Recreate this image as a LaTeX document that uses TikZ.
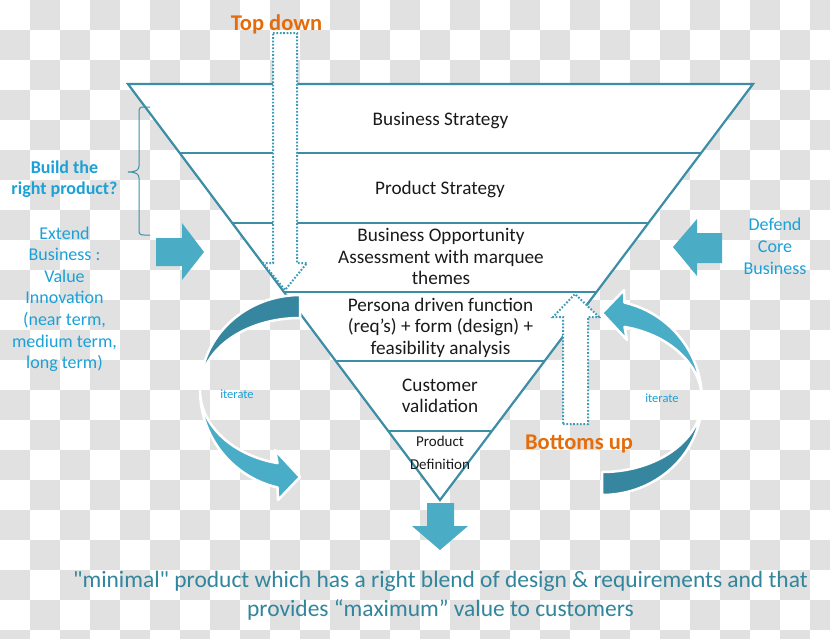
\documentclass[tikz,border=0pt]{standalone}
\usepackage{fontspec}
\setmainfont{Carlito}
\usetikzlibrary{calc}
\definecolor{checkgray}{HTML}{E1E1E1}
\definecolor{funnelline}{HTML}{3B8EA5}
\definecolor{dotline}{HTML}{3E9BB6}
\definecolor{blockblue}{HTML}{4BACC6}
\definecolor{brightblue}{HTML}{1BA1D8}
\definecolor{orangetxt}{HTML}{E46C0A}
\definecolor{tealtxt}{HTML}{31859C}
\definecolor{darkband}{HTML}{3686A0}
\definecolor{lightband}{HTML}{4AADC8}
\definecolor{fgtext}{HTML}{1A1A1A}
\tikzset{
  funnelstroke/.style={draw=funnelline, line width=2.2pt},
  ftext/.style={inner sep=0pt, align=center, anchor=base, text=fgtext, font=\fontsize{19.2}{21.3}\selectfont},
  smalltext/.style={inner sep=0pt, align=center, anchor=base, text=fgtext, font=\fontsize{15}{23.3}\selectfont},
  sidetext/.style={inner sep=0pt, align=center, anchor=base, text=brightblue, font=\fontsize{18}{21.6}\selectfont},
  sidebold/.style={inner sep=0pt, align=center, anchor=base, text=brightblue, font=\fontsize{18}{20.7}\selectfont\bfseries},
  itertext/.style={inner sep=0pt, anchor=base, text=brightblue, font=\fontsize{12.5}{14}\selectfont},
  orangehead/.style={inner sep=0pt, anchor=base, text=orangetxt, font=\fontsize{22.5}{26}\selectfont\bfseries},
  bottomtext/.style={inner sep=0pt, align=center, anchor=base, text=tealtxt, font=\fontsize{23.45}{28.5}\selectfont},
  dotarrow/.style={fill=white, draw=dotline, line width=2pt, dash pattern=on 1.7pt off 1.7pt, line join=miter},
  blockarrow/.style={fill=blockblue, draw=none},
  bandstroke/.style={draw=white, line width=2.5pt, line join=round},
}
\newcommand\myIterArrow{%
  \path[bandstroke, fill=darkband]
    plot[domain=-90:-180, samples=50] ({300+100*cos(\x)},{390+95*sin(\x)})
    -- plot[domain=-180:-90, samples=50] ({300+100*cos(\x)},{390+72*sin(\x)}) -- cycle;
  \path[bandstroke, fill=lightband]
    plot[domain=180:103, samples=50] ({300+100*cos(\x)},{390+100*sin(\x)})
    -- (278,500) -- (300,477) -- (275,450)
    -- plot[domain=103:180, samples=50] ({300+100*cos(\x)},{390+75*sin(\x)}) -- cycle;
}
\begin{document}
\begin{tikzpicture}[x=1pt,y=-1pt]
\useasboundingbox (0,0) rectangle (830,638);
\begin{scope}
\clip (0,0) rectangle (830,638);
\fill[white] (0,0) rectangle (830,638);
\foreach \i in {0,...,27}{\foreach \j in {0,...,21}{%
  \pgfmathtruncatemacro\kk{mod(\i+\j,2)}%
  \ifnum\kk=1 \fill[checkgray] (\i*30,\j*30) rectangle ++(30,30);\fi}}
\end{scope}

% funnel
\coordinate (TL) at (128,84);
\coordinate (TR) at (753,84);
\coordinate (AP) at (440,500);
\path[funnelstroke, fill=white, line join=miter] (TL) -- (TR) -- (AP) -- cycle;
\foreach \k in {1,...,5}{\draw[funnelstroke] ($(TL)!\k/6!(AP)$) -- ($(TR)!\k/6!(AP)$);}

% funnel texts (multi-line nodes: base = last line)
\node[ftext] (bs) at (440.5,125) {Business Strategy};
\node[ftext] (ps) at (440,194.3) {Product Strategy};
\node[ftext] (bo) at (441,284.3) {Business Opportunity\\Assessment with marquee\\themes};
\node[ftext] (pd) at (440.5,354) {Persona driven function\\(req’s) + form (design) +\\feasibility analysis};
\node[ftext] (cv) at (440,412.3) {Customer\\validation};
\node[smalltext] (pdef) at (440,469.3) {Product\\Definition};

% top down / bottoms up dotted arrows
\path[dotarrow] (273,33) -- (297,33) -- (297,263) -- (307,263) -- (285,290) -- (263,263) -- (273,263) -- cycle;
\path[dotarrow] (563,424) -- (588,424) -- (588,317) -- (599,317) -- (575,294) -- (553,317) -- (563,317) -- cycle;
\node[orangehead] (td) at (276.5,30) {Top down};
\node[orangehead] (bu) at (579,449.3) {Bottoms up};

% brace
\draw[funnelline, line width=1pt] (150,107) -- (144,107) .. controls (140,107) and (139,108) .. (139,112)
  -- (139,166) .. controls (139,170) and (136,172) .. (128,172)
  .. controls (136,172) and (139,174) .. (139,178) -- (139,230)
  .. controls (139,234) and (140,235) .. (144,235) -- (150,235);

% side texts
\node[sidebold] (build) at (64.5,194) {Build the\\right product?};
\node[sidetext] (ext) at (64.5,368.7) {Extend\\Business :\\Value\\Innovation\\(near term,\\medium term,\\long term)};
\node[sidetext] (def) at (775,274) {Defend\\Core\\Business};

% block arrows
\path[blockarrow] (156,238) -- (182,238) -- (182,223) -- (204,252) -- (182,280) -- (182,266) -- (156,266) -- cycle;
\path[blockarrow] (722,233) -- (697,233) -- (697,219) -- (673,247) -- (697,276) -- (697,263) -- (722,263) -- cycle;
\path[fill=blockblue] (427,503) -- (454,503) -- (454,526) -- (468,526) -- (440,550) -- (412,526) -- (427,526) -- cycle;

% iterate curved arrows
\myIterArrow
\begin{scope}[rotate around={180:(451,395)}]
\myIterArrow
\end{scope}
\node[itertext] (it1) at (237,398.3) {iterate};
\node[itertext] (it2) at (662,402.7) {iterate};

% bottom caption
\node[bottomtext] (cap) at (440.5,616) {\textquotedbl minimal\textquotedbl{} product which has a right blend of design \& requirements and that\\provides “maximum” value to customers};
\end{tikzpicture}
\end{document}
